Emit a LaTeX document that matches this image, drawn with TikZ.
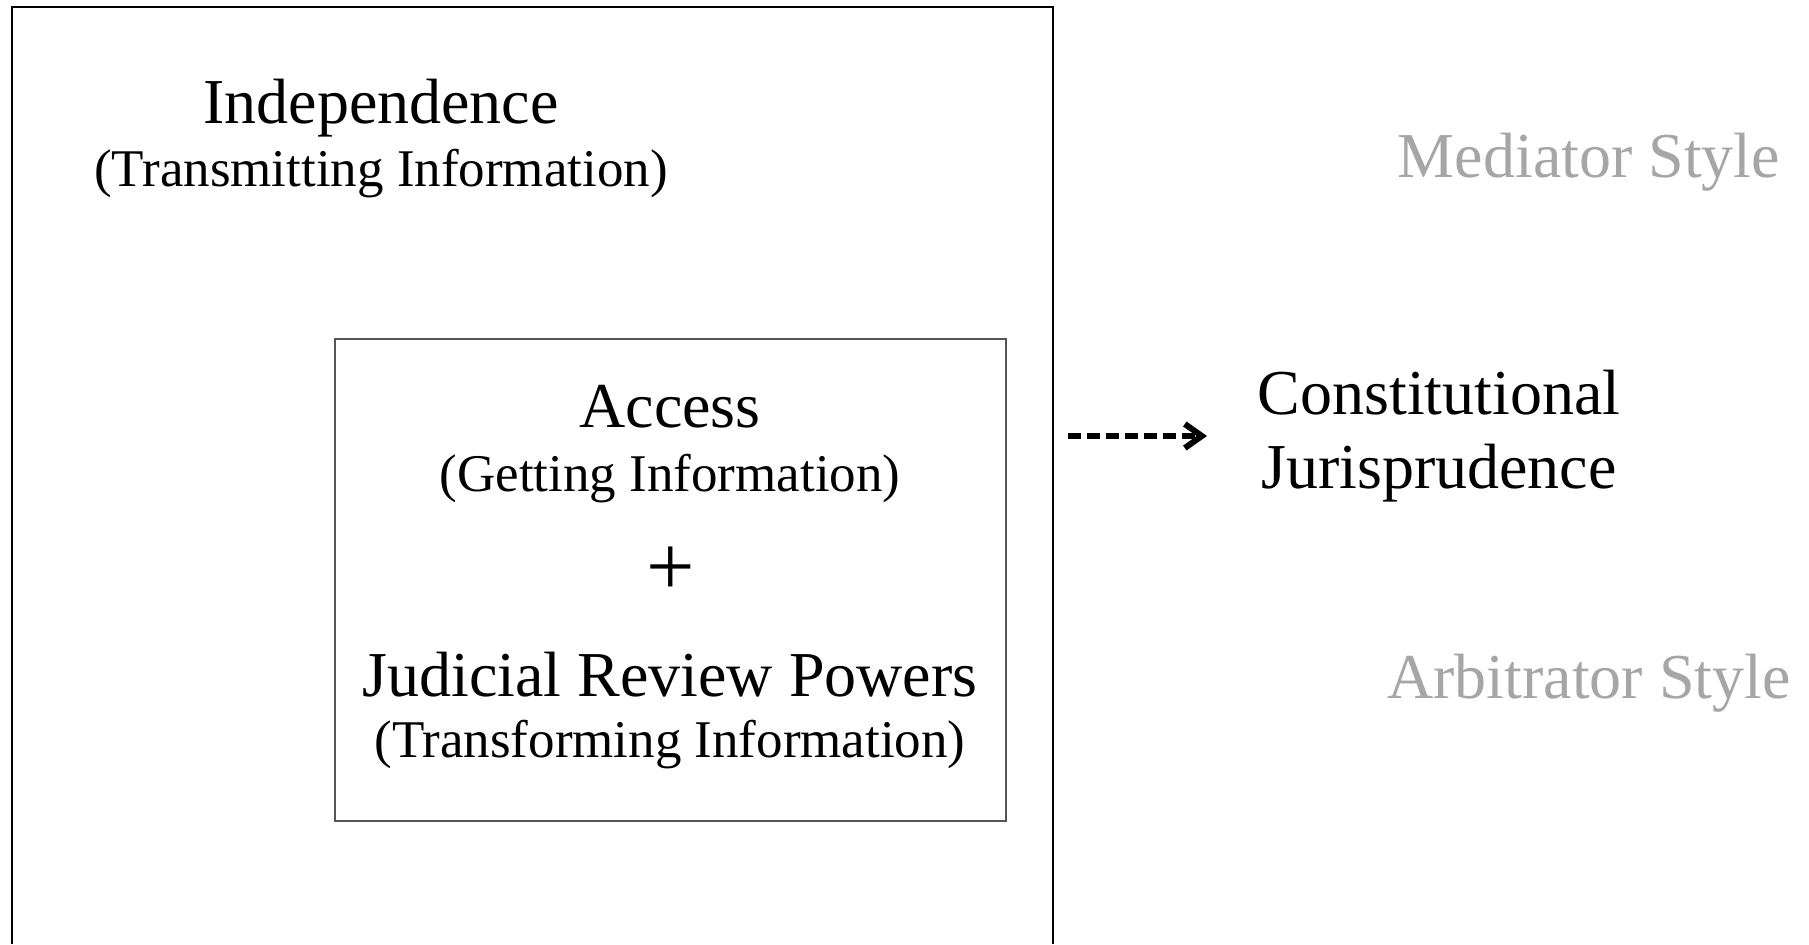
\documentclass[tikz,border=0pt]{standalone}
\usepackage{fontspec}
\setmainfont{Liberation Serif}
\usetikzlibrary{arrows.meta}
\definecolor{stylegray}{HTML}{A6A6A6}
\definecolor{innerline}{HTML}{555555}

\begin{document}
\begin{tikzpicture}[x=0.5pt,y=-0.5pt,
	every node/.style={inner sep=0pt,anchor=base},
	big/.style={font=\fontsize{32}{38}\selectfont},
	small/.style={font=\fontsize{26.5}{32}\selectfont},
	faded/.style={big,text=stylegray},
	dasharrow/.style={line width=3pt,dash pattern=on 6.5pt off 3pt,-{Straight Barb[length=8.5pt,width=12pt]}}]
	\useasboundingbox (0,0) rectangle (1809,944);
	% outer frame (runs off the bottom)
	\draw [black,line width=1pt] (12,944) -- (12,7) -- (1053,7) -- (1053,944);
	\node [big] (indep) at (381,123) {Independence};
	\node [small] (transmit) at (381,186) {(Transmitting Information)};
	% inner frame
	\draw [innerline,line width=0.75pt] (335,339) rectangle (1006,821);
	\node [big] (access) at (670,427) {Access};
	\node [small] (getting) at (670,491) {(Getting Information)};
	\node [font=\fontsize{43}{50}\selectfont] (plus) at (671,595) {+};
	\node [big] (review) at (670,696) {Judicial Review Powers};
	\node [small] (transform) at (670,757) {(Transforming Information)};
	% right side
	\node [faded] (mediator) at (1589,177) {Mediator Style};
	\node [big] (const) at (1439,414) {Constitutional};
	\node [big] (juris) at (1439,488) {Jurisprudence};
	\node [faded] (arbitrator) at (1589,698) {Arbitrator Style};
	\coordinate (arrstart) at (1068,436);
	\coordinate (arrend) at (1207,436);
	\draw [dasharrow] (arrstart) -- (arrend);
\end{tikzpicture}
\end{document}
